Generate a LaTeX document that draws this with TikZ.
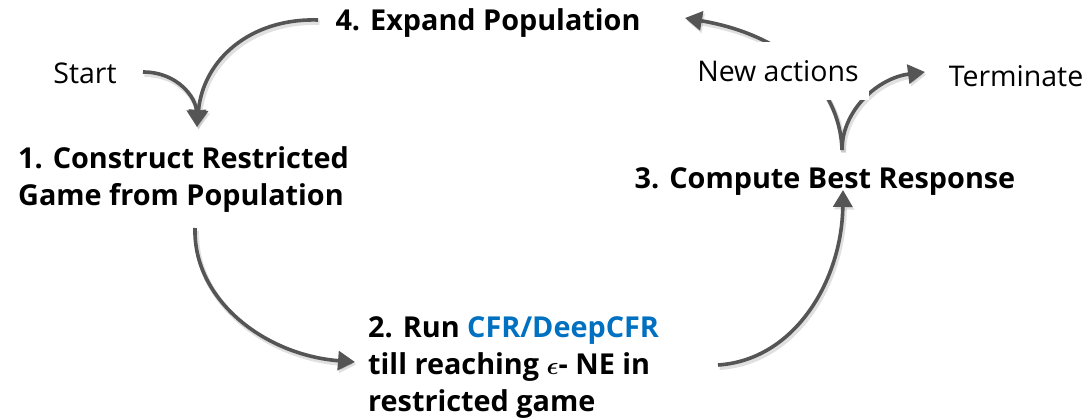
\documentclass[tikz,border=0pt]{standalone}
\usepackage{fontspec}
\setmainfont{Open Sans}
\usetikzlibrary{arrows.meta}
\definecolor{arrowgray}{HTML}{555555}
\definecolor{cfrblue}{HTML}{0070C0}
\tikzset{
  step label/.style={font=\fontsize{28.8}{37}\selectfont\bfseries\boldmath, inner sep=0pt},
  plain label/.style={font=\fontsize{28.5}{34}\selectfont, inner sep=0pt},
  flow/.style={draw=arrowgray, line width=3.6pt,
    -{Triangle[width=19pt,length=17pt]},
    preaction={draw=black!35, opacity=0.35, line width=5pt, transform canvas={shift={(1.5pt,-2.5pt)}}}},
}
\begin{document}
\begin{tikzpicture}[x=1pt,y=-1pt]
\useasboundingbox (0,0) rectangle (1089,419);

% step texts
\node[step label] (expand) at (488,23) {4. Expand Population};
\node[plain label] (start) at (85,73) {Start};
\node[step label, anchor=west, align=left] (construct) at (18,180)
  {1. Construct Restricted\\Game from Population};
\node[step label, anchor=west, align=left] (run) at (368,368)
  {2. Run \textcolor{cfrblue}{CFR/DeepCFR}\\till reaching $\epsilon$- NE in\\restricted game};
\node[step label] (compute) at (825,182) {3. Compute Best Response};
\node[plain label] (terminate) at (1016,76) {Terminate};

% arrow end points
\coordinate (ctop) at (197,127);
\coordinate (exptail) at (318,20);
\coordinate (starttail) at (143,72);
\coordinate (cbot) at (195,228);
\coordinate (runtip) at (355,362);
\coordinate (runtail) at (718,365);
\coordinate (comptip) at (843,190);
\coordinate (comptop) at (842,150);
\coordinate (exptip) at (685,18);
\coordinate (termtip) at (925,72);

% connectors
\draw[flow] (starttail) .. controls (178,72) and (196,98) .. (ctop);
\draw[flow] (exptail) .. controls (250,18) and (203,60) .. (ctop);
\draw[flow] (cbot) .. controls (193,300) and (265,355) .. (runtip);
\draw[flow] (runtail) .. controls (795,360) and (842,280) .. (comptip);
\draw[flow] (comptop) .. controls (840,85) and (785,35) .. (exptip);
\draw[flow] (comptop) .. controls (842,110) and (878,78) .. (termtip);

% label laid over the feedback arrow
\node[plain label, fill=white, minimum width=182pt, minimum height=58pt] (newact) at (778,71) {New actions};
\end{tikzpicture}
\end{document}
